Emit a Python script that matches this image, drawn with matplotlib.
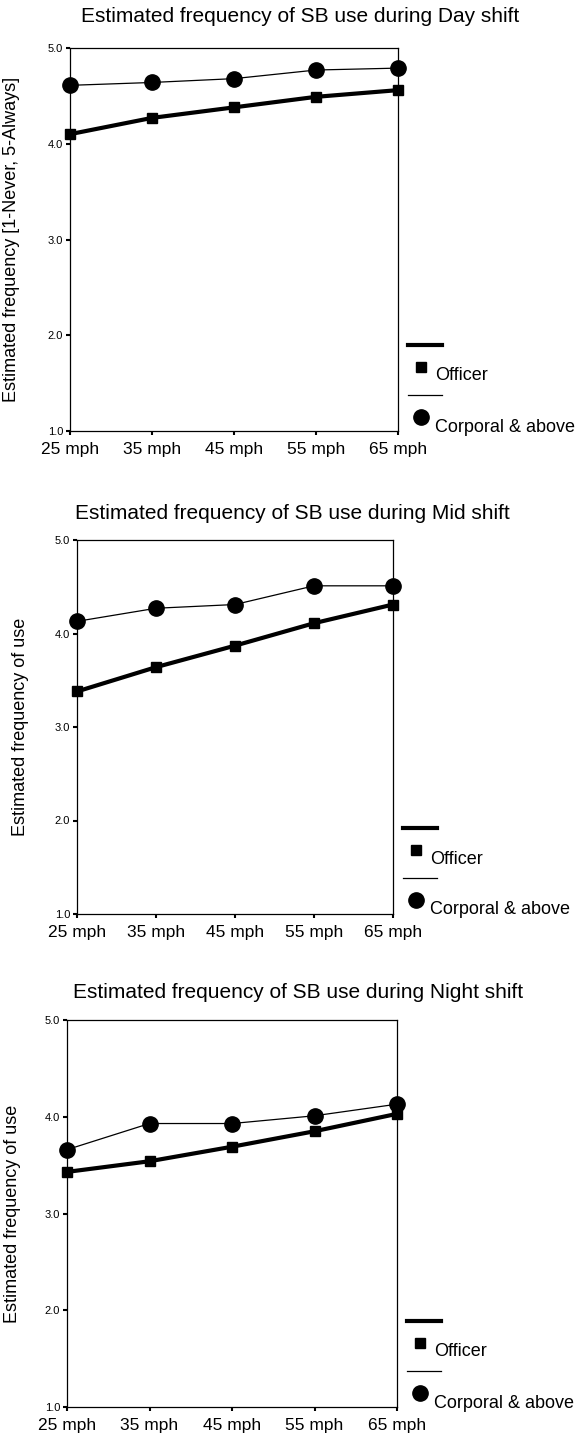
import matplotlib
matplotlib.use('Agg')
import matplotlib.pyplot as plt
from matplotlib.lines import Line2D

plt.rcParams['font.family'] = ['Liberation Sans', 'DejaVu Sans']

# data
speeds = ['25 mph', '35 mph', '45 mph', '55 mph', '65 mph']
shifts = ['Day', 'Mid', 'Night']
ylabels = ['Estimated frequency [1-Never, 5-Always]',
           'Estimated frequency of use',
           'Estimated frequency of use']

officer_day = [4.10, 4.27, 4.38, 4.49, 4.56]
corporal_day = [4.61, 4.64, 4.68, 4.77, 4.79]
officer_mid = [3.38, 3.64, 3.87, 4.11, 4.31]
corporal_mid = [4.13, 4.27, 4.31, 4.51, 4.51]
officer_night = [3.43, 3.54, 3.69, 3.85, 4.03]
corporal_night = [3.66, 3.93, 3.93, 4.01, 4.13]

W, H = 577, 1443


def rect(x0, y0, x1, y1):
  # pixel box (top-left origin) -> figure fraction
  return [x0 / W, 1 - y1 / H, (x1 - x0) / W, (y1 - y0) / H]


def legend_marks(fig, ax):
  # legend drawn beside the lower right corner of the axes, offsets in pixels
  bb = ax.get_position()
  rx, by = bb.x1 * W, (1 - bb.y0) * H
  def fx(v): return (rx + v) / W
  def fy(v): return 1 - (by + v) / H
  fig.add_artist(Line2D([fx(10), fx(44)], [fy(-86), fy(-86)], color='black', lw=3.0, transform=fig.transFigure))
  fig.add_artist(Line2D([fx(23)], [fy(-64)], marker='s', ms=7.5, color='black', transform=fig.transFigure))
  fig.text(fx(37), fy(-55), 'Officer', fontsize=13, va='center', ha='left')
  fig.add_artist(Line2D([fx(10), fx(44)], [fy(-36), fy(-36)], color='black', lw=0.9, transform=fig.transFigure))
  fig.add_artist(Line2D([fx(23)], [fy(-14)], marker='o', ms=11, color='black', transform=fig.transFigure))
  fig.text(fx(37), fy(-4), 'Corporal & above', fontsize=13, va='center', ha='left')


fig = plt.figure(figsize=(W / 100, H / 100), dpi=100)

boxes = [(70, 48, 398, 431), (77, 540, 393, 914), (67, 1020, 397, 1407)]
title_pos = [(300, 16), (292, 513), (298, 992)]
ylab_x = [20, 29, 21]
officer = [officer_day, officer_mid, officer_night]
corporal = [corporal_day, corporal_mid, corporal_night]

for i in range(3):
  ax = fig.add_axes(rect(*boxes[i]))
  x = list(range(len(speeds)))
  ax.plot(x, officer[i], color='black', lw=3.0, marker='s', ms=7.5, clip_on=False, zorder=3)
  ax.plot(x, corporal[i], color='black', lw=0.9, marker='o', ms=11, clip_on=False, zorder=4)
  ax.set_xlim(0, 4)
  ax.set_ylim(1.0, 5.0)
  ax.set_xticks(x)
  ax.set_xticklabels(speeds, fontsize=12.5)
  ax.set_yticks([1.0, 2.0, 3.0, 4.0, 5.0])
  ax.set_yticklabels(['1.0', '2.0', '3.0', '4.0', '5.0'], fontsize=8)
  ax.tick_params(axis='both', direction='out', length=3, width=1.5, pad=2)
  ax.tick_params(axis='x', pad=5)
  for s in ax.spines.values():
    s.set_linewidth(0.9)
  ax.set_ylabel(ylabels[i], fontsize=13)
  w_px = boxes[i][2] - boxes[i][0]
  ax.yaxis.set_label_coords(-(boxes[i][0] - ylab_x[i]) / w_px, 0.5)
  fig.text(title_pos[i][0] / W, 1 - title_pos[i][1] / H,
           'Estimated frequency of SB use during ' + shifts[i] + ' shift',
           fontsize=15, ha='center', va='center')
  legend_marks(fig, ax)

fig.savefig('out.png', dpi=100, facecolor='w')
plt.close('all')
